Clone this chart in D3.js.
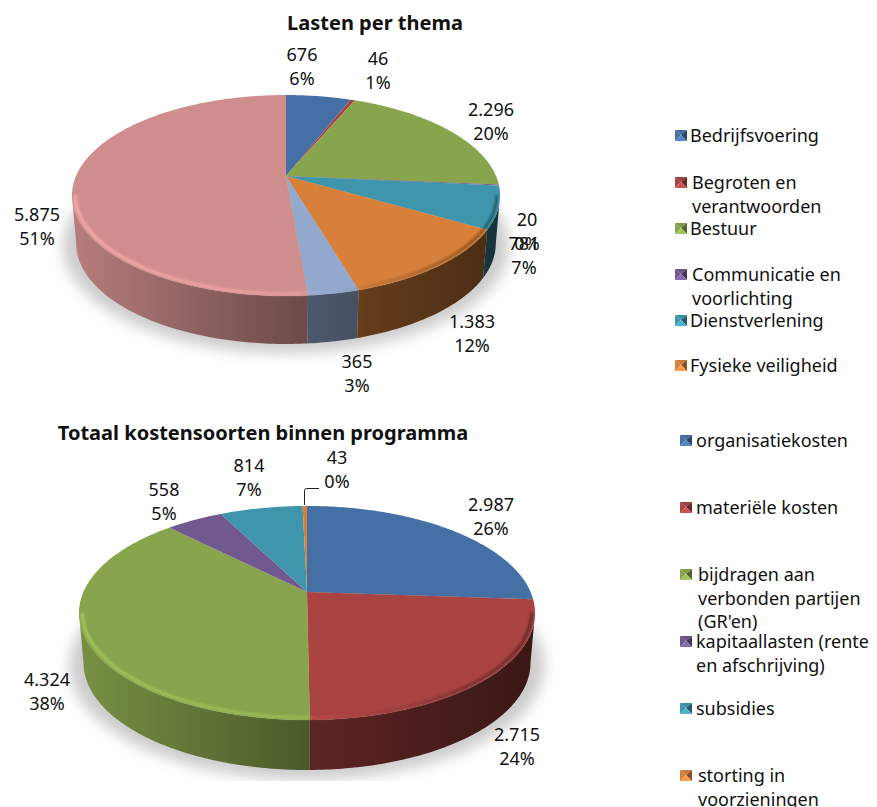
<!DOCTYPE html>
<html lang="nl">
<head>
<meta charset="UTF-8">
<title>Lasten per thema</title>
<script src="https://d3js.org/d3.v7.min.js"></script>
<style>
  html, body { margin: 0; padding: 0; background: #fff; }
  svg { display: block; }
  text { font-family: "Noto Sans", sans-serif; fill: #111; }
  .title { font-weight: bold; font-size: 20px; text-anchor: middle; }
  .label { font-size: 18px; text-anchor: middle; }
  .legend { font-size: 18px; }
</style>
</head>
<body>
<div id="chart"></div>
<script>
// kleuren
const colours = ["#4570A5", "#A94442", "#88A44C", "#71588F", "#3F95AC", "#D8803A", "#92A8CD", "#CF8E8D"];

// bovenste taart
const themaNames = [["Bedrijfsvoering"], ["Begroten en", "verantwoorden"], ["Bestuur"], ["Communicatie en", "voorlichting"], ["Dienstverlening"], ["Fysieke veiligheid"]];
const themaValues = [676, 46, 2296, 20, 781, 1383, 365, 5875];
const themaPct = [6, 1, 20, 0, 7, 12, 3, 51];

// onderste taart
const kostenNames = [["organisatiekosten"], ["materiële kosten"], ["bijdragen aan", "verbonden partijen", "(GR'en)"], ["kapitaallasten (rente", "en afschrijving)"], ["subsidies"], ["storting in", "voorzieningen"]];
const kostenValues = [2987, 2715, 4324, 558, 814, 43];
const kostenPct = [26, 24, 38, 5, 7, 0];

// layout, los van de data
const themaLayout = {
  id: "thema", cx: 286, cy: 176, a: 210, b: 96.7, p: 0.194, depth: 48, clipBottom: 370,
  title: "Lasten per thema", titleX: 375, titleY: 30,
  labelX: [302, 378, 491, 527, 524, 472, 357, 37],
  labelY: [61, 65, 116, 226, 250, 328, 368, 221],
  legendSwatchX: 675, legendTextX: [690, 692, 690, 692, 690, 690],
  legendY: [142, 189, 235, 281, 327, 372]
};
const kostenLayout = {
  id: "kosten", cx: 307, cy: 592, a: 223.6, b: 102.9, p: 0.196, depth: 50, clipBottom: 781,
  title: "Totaal kostensoorten binnen programma", titleX: 263, titleY: 440,
  labelX: [491, 517, 47, 164, 249, 337],
  labelY: [511, 741, 686, 496, 472, 464],
  legendSwatchX: 680, legendTextX: [696, 696, 698, 696, 696, 698],
  legendY: [447, 514, 581, 648, 715, 782]
};

const lineGap = 24;
const numFormat = d3.formatLocale({decimal: ",", thousands: ".", grouping: [3], currency: ["", ""]}).format(",d");

const svg = d3.select("#chart").append("svg").attr("width", 877).attr("height", 807);
const defs = svg.append("defs");

defs.append("filter").attr("id", "shadowBlur").attr("x", "-10%").attr("y", "-10%").attr("width", "120%").attr("height", "120%")
  .append("feGaussianBlur").attr("stdDeviation", 7);
defs.append("filter").attr("id", "rimBlur").attr("x", "-5%").attr("y", "-5%").attr("width", "110%").attr("height", "110%")
  .append("feGaussianBlur").attr("stdDeviation", 1);

const line = d3.line().x(d => d[0]).y(d => d[1]);

function drawPie(cfg, values, pct, names) {
  const g = svg.append("g").attr("id", cfg.id);
  const arcs = d3.pie().sort(null).value(d => d)(values);

  // schermpositie op de schijf, perspectief
  const project = (angle, r, low) => {
    const u = r * Math.sin(angle), v = -r * Math.cos(angle), w = 1 - cfg.p * v;
    const sx = low ? 0.98 : 1;
    return [cfg.cx + cfg.a * u / w * sx, cfg.cy + cfg.b * v / w + (low ? cfg.depth : 0)];
  };
  const angles = (a0, a1) => d3.range(a0, a1, 0.015).concat([a1]);

  // zijkant alleen zichtbaar tussen de raakpunten links en rechts
  const wallStart = Math.acos(-cfg.p), wallEnd = 2 * Math.PI - wallStart;
  const halfWidth = cfg.a / Math.sqrt(1 - cfg.p * cfg.p);
  const shade = d3.scaleLinear().domain([0, 0.5, 1]).range([0.88, 0.55, 0.34]);
  const rimShade = d3.scaleLinear().domain([0, 0.5, 0.8, 1]).range([1.2, 1.12, 0.8, 0.6]);

  const scaled = (c, f) => {
    const rgb = d3.rgb(c);
    return d3.rgb(Math.min(255, rgb.r * f), Math.min(255, rgb.g * f), Math.min(255, rgb.b * f)).formatHex();
  };
  const addGradient = (id, colour, scale) => {
    const grad = defs.append("linearGradient").attr("id", id).attr("gradientUnits", "userSpaceOnUse")
      .attr("x1", cfg.cx - halfWidth).attr("x2", cfg.cx + halfWidth).attr("y1", 0).attr("y2", 0);
    scale.domain().forEach(t => grad.append("stop").attr("offset", t).attr("stop-color", scaled(colour, scale(t))));
  };

  // schaduw onder de taart
  defs.append("clipPath").attr("id", cfg.id + "-clip").append("rect")
    .attr("x", 0).attr("y", cfg.cy).attr("width", 660).attr("height", cfg.clipBottom - cfg.cy);
  g.append("g").attr("clip-path", `url(#${cfg.id}-clip)`)
    .append("path")
    .attr("d", line(angles(0, 2 * Math.PI).map(t => project(t, 1.06, true))) + "Z")
    .attr("fill", "#000").attr("opacity", 0.2).attr("filter", "url(#shadowBlur)");

  // zijkanten
  g.selectAll("path.wall").data(arcs.filter(d => Math.min(d.endAngle, wallEnd) > Math.max(d.startAngle, wallStart)))
    .join("path").attr("class", "wall")
    .attr("d", d => {
      const as = angles(Math.max(d.startAngle, wallStart), Math.min(d.endAngle, wallEnd));
      return line(as.map(t => project(t, 1, false)).concat(as.slice().reverse().map(t => project(t, 1, true)))) + "Z";
    })
    .attr("fill", d => {
      const id = `${cfg.id}-wall-${d.index}`;
      addGradient(id, colours[d.index], shade);
      return `url(#${id})`;
    });

  // bovenvlak
  g.selectAll("path.slice").data(arcs).join("path").attr("class", "slice")
    .attr("d", d => line([project(0, 0, false)].concat(angles(d.startAngle, d.endAngle).map(t => project(t, 1, false)))) + "Z")
    .attr("fill", d => colours[d.index]);

  // lichte rand aan de voorkant
  g.selectAll("path.rim").data(arcs.filter(d => Math.min(d.endAngle, wallEnd) > Math.max(d.startAngle, wallStart)))
    .join("path").attr("class", "rim")
    .attr("d", d => line(angles(Math.max(d.startAngle, wallStart), Math.min(d.endAngle, wallEnd)).map(t => project(t, 0.985, false))))
    .attr("fill", "none").attr("stroke-width", 3).attr("filter", "url(#rimBlur)")
    .attr("stroke", d => {
      const id = `${cfg.id}-rim-${d.index}`;
      addGradient(id, colours[d.index], rimShade);
      return `url(#${id})`;
    });

  // labels
  const labels = g.selectAll("text.label").data(arcs).join("text").attr("class", "label")
    .attr("x", d => cfg.labelX[d.index]).attr("y", d => cfg.labelY[d.index]);
  labels.append("tspan").attr("x", d => cfg.labelX[d.index]).text(d => numFormat(d.value));
  labels.append("tspan").attr("x", d => cfg.labelX[d.index]).attr("dy", lineGap).text(d => pct[d.index] + "%");

  // titel
  g.append("text").attr("class", "title").attr("x", cfg.titleX).attr("y", cfg.titleY).text(cfg.title);

  // legenda
  const items = g.selectAll("g.item").data(names).join("g").attr("class", "item");
  const size = 12;
  items.each(function (name, i) {
    const item = d3.select(this);
    const x = cfg.legendSwatchX, y = cfg.legendY[i] - 12;
    const c = colours[i];
    const tri = (pts, fill) => item.append("path").attr("d", line(pts) + "Z").attr("fill", fill);
    const m = [x + size / 2, y + size / 2 - 1];
    tri([[x, y], [x + size, y], m], scaled(c, 0.95));
    tri([[x, y], [x, y + size - 1], m], scaled(c, 1.0));
    tri([[x + size, y], [x + size, y + size - 1], m], scaled(c, 0.62));
    tri([[x, y + size - 1], [x + size, y + size - 1], m], scaled(c, 1.2));
    const t = item.append("text").attr("class", "legend").attr("y", cfg.legendY[i]);
    name.forEach((s, k) => t.append("tspan").attr("x", cfg.legendTextX[i]).attr("dy", k ? lineGap - 0.5 : 0).text(s));
  });
}

drawPie(themaLayout, themaValues, themaPct, themaNames);
drawPie(kostenLayout, kostenValues, kostenPct, kostenNames);

// verbindingslijn naar het kleine segment
const leaderX = d3.scaleLinear().domain([0, 1]).range([304.5, 319]);
const leaderY = d3.scaleLinear().domain([0, 1]).range([505, 488.5]);
svg.append("path")
  .attr("d", `M${leaderX(0)},${leaderY(0)}V${leaderY(1) + 2}Q${leaderX(0)},${leaderY(1)} ${leaderX(0) + 2},${leaderY(1)}H${leaderX(1)}`)
  .attr("fill", "none").attr("stroke", "#222").attr("stroke-width", 1);
</script>
</body>
</html>
